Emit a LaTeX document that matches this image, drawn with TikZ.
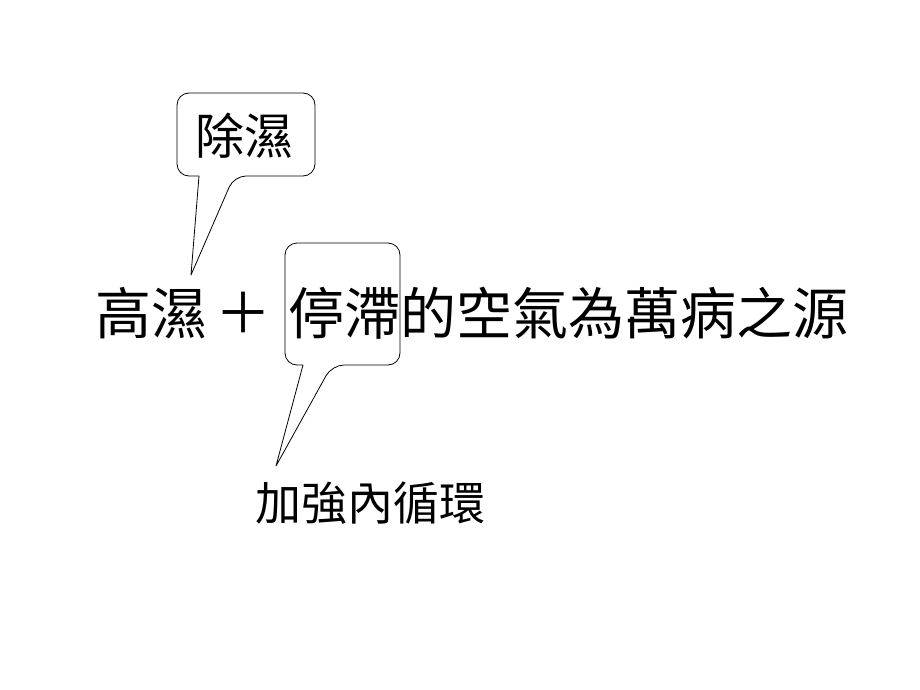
\documentclass[tikz,border=0pt]{standalone}
\usepackage{fontspec}
\newfontfamily\cjk{Noto Sans CJK TC}
\begin{document}
\begin{tikzpicture}[x=1pt,y=-1pt,
  callout/.style={draw=black, line width=0.8pt, fill=white, line join=round},
  big/.style={font=\cjk\fontsize{56}{62}\selectfont, inner sep=0pt},
  mid/.style={font=\cjk\fontsize{46}{52}\selectfont, inner sep=0pt},
  midb/.style={font=\cjk\fontsize{49}{54}\selectfont, inner sep=0pt}]
\useasboundingbox[fill=white] (0,0) rectangle (920,690);
% callout 1
\coordinate (t1) at (191,275);
\draw[callout] (t1) -- (199,176) [rounded corners=12pt] -- (177,176) -- (177,93) -- (315,93) -- (315,176) -- (234,176) [sharp corners] -- cycle;
% callout 2
\coordinate (t2) at (276,466);
\draw[callout] (t2) -- (303,365) [rounded corners=12pt] -- (285,365) -- (285,243) -- (400,243) -- (400,365) -- (332,365) [sharp corners] -- cycle;
% texts
\node[midb] (chushi) at (244,136) {除濕};
\node[big, anchor=west] (gaoshi) at (95,313) {高濕};
\node[big] (plus) at (243,313) {＋};
\node[big, anchor=west] (main) at (288,313) {停滯的空氣為萬病之源};
\node[mid] (jiaqiang) at (370,503) {加強內循環};
\end{tikzpicture}
\end{document}
